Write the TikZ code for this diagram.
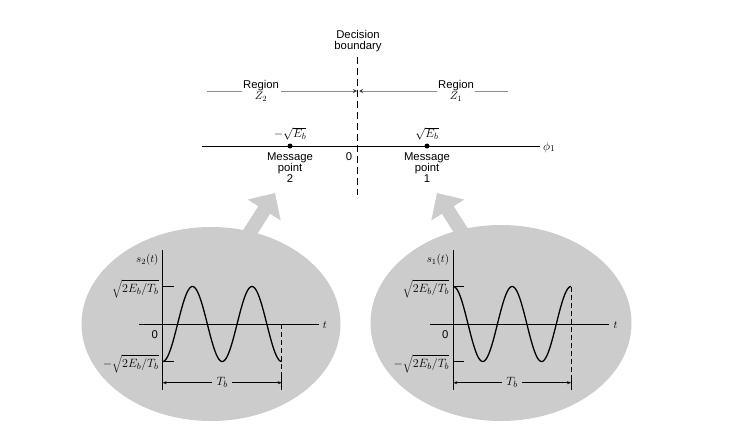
\documentclass[tikz,border=0pt]{standalone}
\usepackage{fontspec}
\setmainfont{Liberation Sans}
\usetikzlibrary{arrows.meta}
\begin{document}
\begin{tikzpicture}[x=1pt,y=-1pt,
  lbl/.style={font=\fontsize{11.3}{11}\selectfont, align=center, inner sep=0pt},
  mth/.style={font=\fontsize{12.5}{13}\selectfont, inner sep=0pt},
  smth/.style={font=\fontsize{11}{12}\selectfont, inner sep=0pt},
  regionline/.style={draw=black!45, line width=0.8pt},
  axisline/.style={line width=0.7pt},
  wave/.style={line width=1.3pt},
  dimarrow/.style={line width=0.5pt, -{Stealth[length=4pt,width=3pt]}},
  regarrow/.style={regionline, -{Stealth[length=4pt,width=4pt,color=black!75]}},
  dot/.style={circle, fill=black, inner sep=0pt, minimum size=5pt}
]
\useasboundingbox (0,0) rectangle (751,444);

% ---------- top part ----------
\node[lbl] (db) at (358,41.5) {Decision\\boundary};
\coordinate (dbtop) at (357.7,57);
\coordinate (dbbot) at (357.7,195);
\draw[line width=1pt, dash pattern=on 7pt off 4pt] (dbtop) -- (dbbot);

% regions
\node[lbl] (r2) at (261,91) {Region\\$Z_2$};
\node[lbl] (r1) at (456,91) {Region\\$Z_1$};
\coordinate (r2a) at (207,91);
\coordinate (r2b) at (242,91);
\coordinate (r2c) at (281,91);
\coordinate (r2d) at (357,91);
\coordinate (r1a) at (508,91);
\coordinate (r1b) at (475,91);
\coordinate (r1c) at (437,91);
\coordinate (r1d) at (359,91);
\draw[regionline] (r2a) -- (r2b);
\draw[regarrow] (r2c) -- (r2d);
\draw[regionline] (r1a) -- (r1b);
\draw[regarrow] (r1c) -- (r1d);

% phi axis
\coordinate (phil) at (202,146);
\node[mth, anchor=west] (phi) at (543,147) {$\phi_1$};
\draw[axisline] (phil) -- (540,146);
\node[dot] (m2) at (290,146) {};
\node[dot] (m1) at (427,146) {};
\node[mth] (m2v) at (290,134) {$-\sqrt{E_b}$};
\node[mth] (m1v) at (427,134) {$\sqrt{E_b}$};
\node[lbl] (m2t) at (290,168) {Message\\point\\2};
\node[lbl] (m1t) at (427,168) {Message\\point\\1};
\node[lbl] (zero) at (349,157) {0};

% ---------- ellipses and big arrows ----------
\fill[black!20] (211,324) ellipse [x radius=129.5pt, y radius=97pt];
\fill[black!20] (501,323) ellipse [x radius=130.5pt, y radius=98pt];
\fill[black!20] (242.2,231.6) -- (258.3,206.2) -- (247.7,199.5) -- (275,193)
  -- (280.7,220.5) -- (270.1,213.8) -- (254,239.2) -- cycle;
\fill[black!20] (469.8,231.6) -- (453.7,206.2) -- (464.3,199.5) -- (437,193)
  -- (431.3,220.5) -- (441.9,213.8) -- (458,239.2) -- cycle;

% ---------- left plot s2(t) ----------
\begin{scope}[shift={(162.7,324)}]
  \coordinate (Lytop) at (0,-74);
  \coordinate (Lybot) at (0,66);
  \draw[axisline] (Lytop) -- (Lybot);
  \coordinate (Ltl) at (-23.4,0);
  \node[smth, anchor=west] (Lt) at (160,1) {$t$};
  \draw[axisline] (Ltl) -- (156.6,0);
  \draw[line width=0.5pt] (0,-37.5) -- (11,-37.5);
  \draw[line width=0.5pt] (0,37.5) -- (11,37.5);
  \draw[wave, domain=0:119, samples=120, smooth] plot (\x,{37.5*cos(6.05042*\x)});
  \draw[line width=0.5pt, dash pattern=on 5pt off 3pt] (119,0) -- (119,53);
  \draw[line width=0.5pt] (119,53) -- (119,66);
  \node[mth, fill=black!20, inner xsep=4pt, inner ysep=1pt] (LTb) at (59.5,58.7) {$T_b$};
  \draw[dimarrow] (LTb.west) -- (0,58.7);
  \draw[dimarrow] (LTb.east) -- (119,58.7);
  \node[smth, anchor=east] (Ls) at (-4,-64) {$s_2(t)$};
  \node[mth, anchor=east] (Lhi) at (-4,-35) {$\sqrt{2E_b/T_b}$};
  \node[mth, anchor=east] (Llo) at (-4,40) {$-\sqrt{2E_b/T_b}$};
  \node[lbl] (L0) at (-8,11) {0};
\end{scope}

% ---------- right plot s1(t) ----------
\begin{scope}[shift={(453.3,324)}]
  \coordinate (Rytop) at (0,-74);
  \coordinate (Rybot) at (0,66);
  \draw[axisline] (Rytop) -- (Rybot);
  \coordinate (Rtl) at (-23.3,0);
  \node[smth, anchor=west] (Rt) at (160,1) {$t$};
  \draw[axisline] (Rtl) -- (156,0);
  \draw[line width=0.5pt] (0,-37.5) -- (11,-37.5);
  \draw[line width=0.5pt] (0,37.5) -- (11,37.5);
  \draw[wave, domain=0:117.7, samples=120, smooth] plot (\x,{-37.5*cos(6.11725*\x)});
  \draw[line width=0.5pt, dash pattern=on 5pt off 3pt] (117.7,-37.5) -- (117.7,53);
  \draw[line width=0.5pt] (117.7,53) -- (117.7,66);
  \node[mth, fill=black!20, inner xsep=4pt, inner ysep=1pt] (RTb) at (58.85,58.7) {$T_b$};
  \draw[dimarrow] (RTb.west) -- (0,58.7);
  \draw[dimarrow] (RTb.east) -- (117.7,58.7);
  \node[smth, anchor=east] (Rs) at (-4,-64) {$s_1(t)$};
  \node[mth, anchor=east] (Rhi) at (-4,-35) {$\sqrt{2E_b/T_b}$};
  \node[mth, anchor=east] (Rlo) at (-4,40) {$-\sqrt{2E_b/T_b}$};
  \node[lbl] (R0) at (-8,11) {0};
\end{scope}
\end{tikzpicture}
\end{document}
